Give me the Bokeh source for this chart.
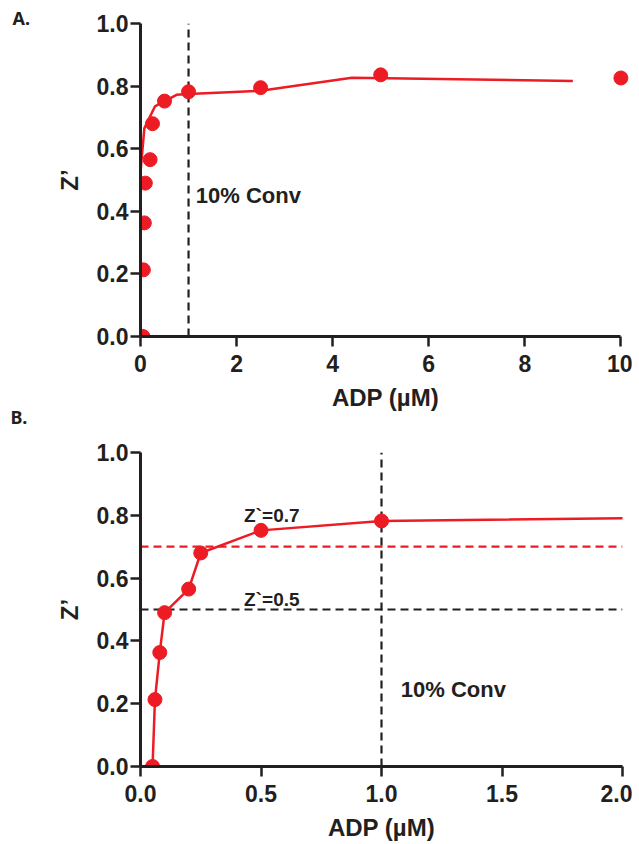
from bokeh.plotting import figure
from bokeh.models import Range1d, FixedTicker, NumeralTickFormatter, Title
from bokeh.layouts import column
from bokeh.embed import file_html
from bokeh.resources import INLINE
from bokeh.core.properties import value

# ---- data ----
adp = [0.05, 0.06, 0.08, 0.1, 0.2, 0.25, 0.5, 1.0, 2.5, 5.0, 10.0]
zprime = [0.0, 0.213, 0.363, 0.49, 0.565, 0.68, 0.752, 0.782, 0.795, 0.836, 0.826]
fit_x = [-0.06, -0.06, 0.08, 0.3, 0.75, 1.0, 2.5, 4.4, 9.0]
fit_y = [0.0, 0.42, 0.665, 0.735, 0.772, 0.775, 0.785, 0.827, 0.816]
top_xticks = [0, 2, 4, 6, 8, 10]
bottom_xticks = [0, 0.5, 1.0, 1.5, 2.0]
y_ticks = [0, 0.2, 0.4, 0.6, 0.8, 1.0]
conv_adp = 1.0
z_good = 0.7
z_ok = 0.5

RED = "#ED1C24"
BLACK = "#231F20"
FONT = "Liberation Sans"


def style(p, xticks, xfmt):
    p.grid.visible = False
    p.outline_line_color = None
    for ax in (p.xaxis[0], p.yaxis[0]):
        ax.axis_line_width = 3
        ax.axis_line_color = BLACK
        ax.major_tick_line_width = 2.5
        ax.major_tick_line_color = BLACK
        ax.major_tick_in = 0
        ax.major_tick_out = 10
        ax.minor_tick_line_color = None
        ax.major_label_text_font = FONT
        ax.major_label_text_font_style = "bold"
        ax.major_label_text_font_size = "23px"
        ax.major_label_text_color = BLACK
        ax.axis_label_text_font = FONT
        ax.axis_label_text_font_style = "bold"
        ax.axis_label_text_font_size = "24px"
        ax.axis_label_text_color = BLACK
    p.xaxis.ticker = FixedTicker(ticks=xticks)
    p.yaxis.ticker = FixedTicker(ticks=y_ticks)
    p.yaxis.formatter = NumeralTickFormatter(format="0.0")
    if xfmt:
        p.xaxis.formatter = NumeralTickFormatter(format=xfmt)
    p.xaxis.axis_label = "ADP (µM)"
    p.yaxis.axis_label = "Z’"
    p.xaxis.major_label_standoff = 8
    p.yaxis.major_label_standoff = 2
    p.xaxis.axis_label_standoff = 9
    p.yaxis.axis_label_standoff = 11


def panel_title(text, offset, standoff):
    return Title(text=text, align="left", offset=offset, standoff=standoff,
                 text_font="Noto Sans", text_font_style="bold", text_font_size="18px",
                 text_color=BLACK)


# ---- top panel ----
p1 = figure(frame_width=490, frame_height=313, x_range=Range1d(0, 10.2), y_range=Range1d(0, 1.0),
            output_backend="svg", toolbar_location=None,
            min_border_left=140, min_border_right=2, min_border_top=23, min_border_bottom=96)
style(p1, top_xticks, None)
p1.xaxis.bounds = (0, 10)
p1.add_layout(panel_title("A.", -128, -13), "above")
p1.add_layout(panel_title("B.", -130, -31), "below")

p1.segment(x0=[conv_adp], y0=[0], x1=[conv_adp], y1=[1.0], line_color=BLACK,
           line_width=2.2, line_dash="8 5")
p1.line(fit_x, fit_y, line_color=RED, line_width=2.5)
p1.scatter(adp, zprime, size=14, color=RED)
p1.text(x=[1.15], y=[0.45], text=["10% Conv"], text_font=value(FONT), text_font_style="bold",
        text_font_size="22px", text_baseline="middle", text_color=BLACK)

# ---- bottom panel ----
p2 = figure(frame_width=482, frame_height=314, x_range=Range1d(0, 2.0), y_range=Range1d(0, 1.0),
            output_backend="svg", toolbar_location=None,
            min_border_left=140, min_border_right=10, min_border_top=20, min_border_bottom=77)
style(p2, bottom_xticks, "0.0")

p2.segment(x0=[0, 0], y0=[z_good, z_ok], x1=[2.0, 2.0], y1=[z_good, z_ok],
           line_color=[RED, BLACK], line_width=2.2, line_dash="8 5")
p2.segment(x0=[conv_adp], y0=[0], x1=[conv_adp], y1=[1.0], line_color=BLACK,
           line_width=2.2, line_dash="8 5")
p2.line(adp, zprime, line_color=RED, line_width=2.5)
p2.scatter(adp, zprime, size=14, color=RED)
p2.text(x=[0.545, 0.545], y=[z_good + 0.1, z_ok + 0.032], text=["Z`=0.7", "Z`=0.5"],
        text_font=value(FONT), text_font_style="bold", text_font_size="19px",
        text_align="center", text_baseline="middle", text_color=BLACK)
p2.text(x=[1.08], y=[0.245], text=["10% Conv"], text_font=value(FONT), text_font_style="bold",
        text_font_size="22px", text_baseline="middle", text_color=BLACK)

layout = column(p1, p2, spacing=0)
open("out.html", "w").write(file_html(layout, INLINE))
